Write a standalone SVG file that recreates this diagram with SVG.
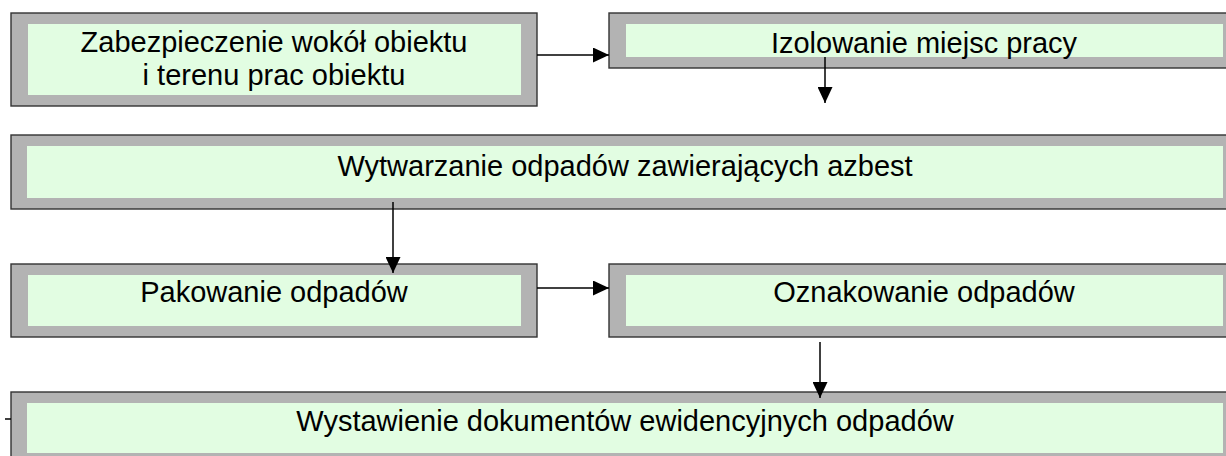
<svg xmlns="http://www.w3.org/2000/svg" width="1226" height="456" viewBox="0 0 1226 456">
<style>
.outer{fill:#b3b3b3;stroke:#333;stroke-width:1.4}
.inner{fill:#e2fde2}
.t{font-family:"Liberation Sans",Arial,sans-serif;font-size:29px;fill:#000;text-anchor:middle}
.c{stroke:#000;stroke-width:1.5;fill:none}
</style>
<defs>
<marker id="ah" viewBox="0 0 16 15" refX="16" refY="7.5" markerWidth="16" markerHeight="15" markerUnits="userSpaceOnUse" orient="auto">
<path d="M0,0 L16,7.5 L0,15 Z" fill="#000"/>
</marker>
</defs>
<rect width="1226" height="456" fill="#fff"/>
<g id="n1">
<rect class="outer" x="11" y="13" width="526" height="93"/>
<rect class="inner" x="28" y="24" width="493" height="71"/>
<text class="t" x="274" y="52">Zabezpieczenie wokół obiektu</text>
<text class="t" x="274" y="85">i terenu prac obiektu</text>
</g>
<g id="n2">
<rect class="outer" x="609" y="13" width="631" height="55"/>
<rect class="inner" x="626" y="24" width="597" height="33"/>
<text class="t" x="924" y="53">Izolowanie miejsc pracy</text>
</g>
<g id="n3">
<rect class="outer" x="11" y="135" width="1229" height="74"/>
<rect class="inner" x="27" y="146" width="1196" height="52"/>
<text class="t" x="625" y="176">Wytwarzanie odpadów zawierających azbest</text>
</g>
<g id="n4">
<rect class="outer" x="11" y="264" width="526" height="73"/>
<rect class="inner" x="28" y="275" width="493" height="51"/>
<text class="t" x="274" y="302">Pakowanie odpadów</text>
</g>
<g id="n5">
<rect class="outer" x="609" y="264" width="631" height="73"/>
<rect class="inner" x="626" y="275" width="597" height="51"/>
<text class="t" x="924" y="302">Oznakowanie odpadów</text>
</g>
<g id="n6">
<rect class="outer" x="11" y="392" width="1229" height="72"/>
<rect class="inner" x="27" y="403" width="1196" height="50"/>
<text class="t" x="625" y="431">Wystawienie dokumentów ewidencyjnych odpadów</text>
</g>
<g id="connectors">
<line class="c" x1="537" y1="55" x2="609" y2="55" marker-end="url(#ah)"/>
<line class="c" x1="825" y1="57" x2="825" y2="103" marker-end="url(#ah)"/>
<line class="c" x1="393" y1="202" x2="393" y2="273" marker-end="url(#ah)"/>
<line class="c" x1="537" y1="288" x2="609" y2="288" marker-end="url(#ah)"/>
<line class="c" x1="820" y1="342" x2="820" y2="398" marker-end="url(#ah)"/>
<line class="c" x1="5" y1="419" x2="11" y2="419"/>
</g>
</svg>
